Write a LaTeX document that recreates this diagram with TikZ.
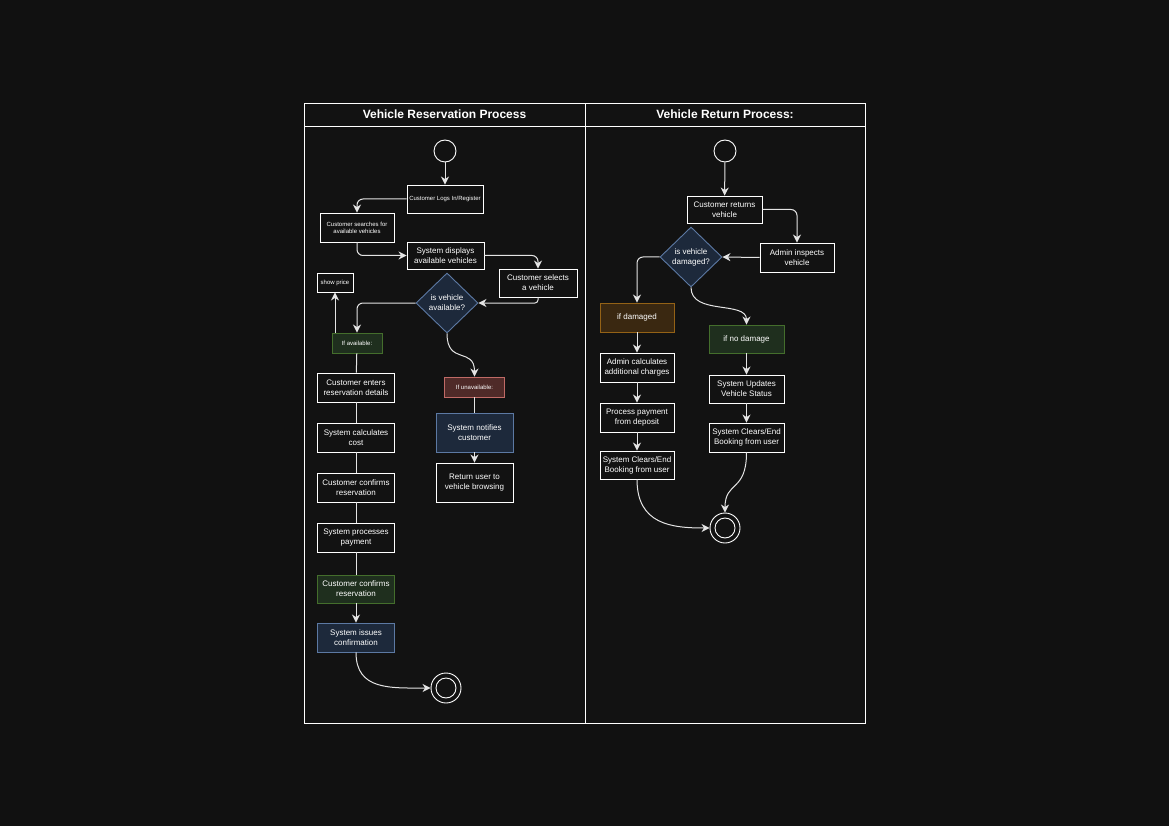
\documentclass[tikz,border=0pt]{standalone}
\usepackage{fontspec}
\setmainfont{Liberation Sans}
\usetikzlibrary{arrows.meta,shapes.geometric}
\definecolor{bgc}{HTML}{121212}
\definecolor{bluef}{HTML}{1D293B}
\definecolor{blued}{HTML}{5C79A3}
\definecolor{greenf}{HTML}{1F2F1E}
\definecolor{greend}{HTML}{446E2C}
\definecolor{redf}{HTML}{4F2A28}
\definecolor{redd}{HTML}{C06A66}
\definecolor{brownf}{HTML}{3A2811}
\definecolor{brownd}{HTML}{946216}
\definecolor{linec}{HTML}{E4E4E4}
\tikzset{
  box/.style={draw=white, line width=0.9pt, fill=bgc, text=white, align=center, inner sep=1pt,
    font=\fontsize{8}{10}\selectfont, minimum width=76pt, minimum height=28pt},
  tinyf/.style={font=\fontsize{6}{7}\selectfont},
  bluebox/.style={box, fill=bluef, draw=blued},
  greenbox/.style={box, fill=greenf, draw=greend},
  redbox/.style={box, fill=redf, draw=redd},
  brownbox/.style={box, fill=brownf, draw=brownd},
  decision/.style={diamond, aspect=1, draw=blued, fill=bluef, line width=0.9pt, text=white, align=center,
    inner sep=0pt, minimum width=62pt, minimum height=60pt, font=\fontsize{8}{10}\selectfont},
  startnode/.style={circle, draw=white, line width=0.9pt, minimum size=22pt, inner sep=0pt},
  endnode/.style={circle, draw=white, line width=0.9pt, minimum size=30pt, inner sep=0pt},
  conn/.style={draw=linec, line width=1pt},
  flow/.style={conn, -{Stealth[length=8pt,width=8pt,inset=2.5pt]}},
  paneltitle/.style={text=white, font=\fontsize{12}{14}\selectfont\bfseries},
}
\begin{document}
\begin{tikzpicture}[x=1pt,y=-1pt]
\fill[bgc!92!black] (0,0) rectangle (1169,826);
\useasboundingbox (0,0) rectangle (1169,826);
% panels
\draw[white, line width=0.9pt, fill=bgc] (304,103) rectangle (585,723);
\draw[white, line width=0.9pt] (304,126) -- (585,126);
\draw[white, line width=0.9pt, fill=bgc] (585,103) rectangle (865,723);
\draw[white, line width=0.9pt] (585,126) -- (865,126);
\node[paneltitle] (t1) at (444.5,114.5) {Vehicle Reservation Process};
\node[paneltitle] (t2) at (725,114.5) {Vehicle Return Process:};

% ---------- left panel ----------
\node[startnode] (s1) at (445,151) {};
\node[box, tinyf] (login) at (445,199) {Customer Logs In/Register};
\node[box, tinyf, minimum width=74pt, minimum height=29pt] (search) at (357,227.5) {Customer searches for\\available vehicles};
\node[box, minimum width=77pt, minimum height=27pt] (displays) at (445.5,255.5) {System displays\\available vehicles};
\node[box, minimum width=78pt] (selects) at (538,283) {Customer selects\\a vehicle};
\node[decision] (d1) at (447,303) {is vehicle\\available?};
\node[greenbox, tinyf, minimum width=50pt, minimum height=20pt] (ifavail) at (357,343) {If available:};
\node[box, tinyf, minimum width=36pt, minimum height=19pt] (showprice) at (335,282.5) {show price};
\node[box, minimum width=77pt, minimum height=29pt] (enters) at (356,387.5) {Customer enters\\reservation details};
\node[box, minimum width=77pt, minimum height=29pt] (calc) at (356,437.5) {System calculates\\cost};
\node[box, minimum width=77pt, minimum height=29pt] (confirm1) at (356,487.5) {Customer confirms\\reservation};
\node[box, minimum width=77pt, minimum height=29pt] (payment) at (356,537.5) {System processes\\payment};
\node[greenbox, minimum width=77pt, minimum height=28pt] (confirm2) at (356,589) {Customer confirms\\reservation};
\node[bluebox, minimum width=77pt, minimum height=29pt] (issues) at (356,637.5) {System issues\\confirmation};
\node[endnode] (e1) at (446,688) {};
\draw[white, line width=0.9pt] (e1.center) circle[radius=10];
\node[redbox, tinyf, minimum width=60pt, minimum height=20pt] (unavail) at (474.5,387) {If unavailable:};
\node[bluebox, minimum width=77pt, minimum height=39pt] (notifies) at (474.5,432.5) {System notifies\\customer};
\node[box, minimum width=77pt, minimum height=39pt] (return) at (474.5,482.5) {Return user to\\vehicle browsing};

\draw[flow] (s1) -- (login);
\draw[flow, rounded corners=6pt] (login.west) -| (search.north);
\draw[flow, rounded corners=6pt] (search.south) |- (displays.west);
\draw[flow, rounded corners=6pt] (displays.east) -| (selects.north);
\draw[flow, rounded corners=3pt] (selects.south) |- (d1.east);
\draw[flow, rounded corners=6pt] (d1.west) -| (ifavail.north);
\draw[flow] (showprice.south |- ifavail.north) -- (showprice.south);
\draw[conn] (ifavail) -- (enters);
\draw[conn] (enters) -- (calc);
\draw[conn] (calc) -- (confirm1);
\draw[conn] (confirm1) -- (payment);
\draw[conn] (payment) -- (confirm2);
\draw[flow] (confirm2) -- (issues);
\draw[flow] (issues.south) .. controls +(0,38) and +(-40,0) .. (e1.west);
\draw[flow] (d1.south) .. controls +(0,32) and +(0,-30) .. (unavail.north);
\draw[conn] (unavail) -- (notifies);
\draw[flow] (notifies) -- (return);

% ---------- right panel ----------
\node[startnode] (s2) at (725,151) {};
\node[box, minimum width=75pt, minimum height=27pt] (returns) at (724.5,209.5) {Customer returns\\vehicle};
\node[box, minimum width=74pt, minimum height=29pt] (inspect) at (797,257.5) {Admin inspects\\vehicle};
\node[decision] (d2) at (691,257) {is vehicle\\damaged?};
\node[brownbox, minimum width=74pt, minimum height=29pt] (damaged) at (637,317.5) {if damaged};
\node[greenbox, minimum width=75pt, minimum height=28pt] (nodamage) at (746.5,339) {if no damage};
\node[box, minimum width=74pt, minimum height=29pt] (calc2) at (637,367.5) {Admin calculates\\additional charges};
\node[box, minimum width=74pt, minimum height=29pt] (payd) at (637,417.5) {Process payment\\from deposit};
\node[box, minimum width=74pt, minimum height=28pt] (clearL) at (637,465) {System Clears/End\\Booking from user};
\node[box, minimum width=75pt, minimum height=28pt] (updates) at (746.5,389) {System Updates\\Vehicle Status};
\node[box, minimum width=75pt, minimum height=29pt] (clearR) at (746.5,437.5) {System Clears/End\\Booking from user};
\node[endnode] (e2) at (725,528) {};
\draw[white, line width=0.9pt] (e2.center) circle[radius=10];

\draw[flow] (s2) -- (returns);
\draw[flow, rounded corners=6pt] (returns.east) -| (inspect.north);
\draw[flow] (inspect.west) -- (d2.east);
\draw[flow, rounded corners=6pt] (d2.west) -| (damaged.north);
\draw[flow] (d2.south) .. controls +(0,28) and +(0,-24) .. (nodamage.north);
\draw[flow] (damaged) -- (calc2);
\draw[flow] (calc2) -- (payd);
\draw[flow] (payd) -- (clearL);
\draw[flow] (nodamage) -- (updates);
\draw[flow] (updates) -- (clearR);
\draw[flow] (clearL.south) .. controls +(0,45) and +(-38,0) .. (e2.west);
\draw[flow] (clearR.south) .. controls +(0,40) and +(0,-32) .. (e2.north);
\end{tikzpicture}
\end{document}
